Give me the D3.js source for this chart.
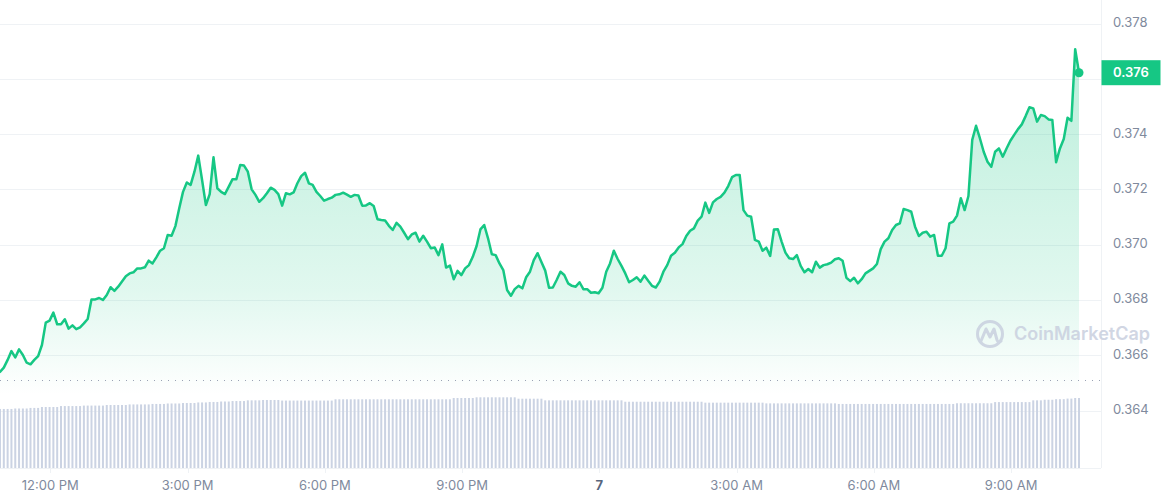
<!DOCTYPE html>
<html><head><meta charset="utf-8">
<script src="https://cdn.jsdelivr.net/npm/d3@7"></script>
<style>
html,body{margin:0;padding:0;background:#fff;}
svg{display:block;font-family:Inter,"Noto Sans",sans-serif;}
</style></head><body>
<svg id="chart" width="1161" height="500"></svg>
<script>
// ---- data ----
const startTime = "2024-03-06T10:54:00";
const stepMinutes = 5;
const prices = [
0.36540,0.36555,0.36583,0.36615,0.36592,0.36621,0.36601,0.36573,0.36567,0.36583,
0.36597,0.36637,0.36718,0.36725,0.36754,0.36712,0.36712,0.36730,0.36696,0.36708,
0.36694,0.36701,0.36715,0.36731,0.36802,0.36802,0.36807,0.36800,0.36818,0.36846,
0.36833,0.36848,0.36867,0.36886,0.36896,0.36900,0.36914,0.36914,0.36918,0.36942,
0.36932,0.36954,0.36978,0.36987,0.37035,0.37032,0.37067,0.37131,0.37191,0.37225,
0.37216,0.37264,0.37322,0.37234,0.37143,0.37183,0.37316,0.37204,0.37191,0.37183,
0.37210,0.37237,0.37237,0.37288,0.37286,0.37264,0.37200,0.37180,0.37155,0.37168,
0.37186,0.37206,0.37198,
0.37183,0.37141,0.37186,0.37182,0.37189,0.37222,0.37248,
0.37260,0.37222,0.37216,0.37191,0.37176,0.37159,0.37165,0.37170,0.37180,0.37182,
0.37188,0.37181,0.37173,0.37180,0.37178,0.37141,0.37142,0.37150,0.37140,0.37092,
0.37089,0.37087,0.37068,0.37053,0.37079,0.37065,0.37043,0.37020,0.37037,0.37043,
0.37011,0.37032,0.37011,0.36987,0.36990,0.36962,0.37001,0.36917,0.36924,0.36875,
0.36905,0.36890,0.36914,0.36926,0.36956,0.36995,0.37055,0.37071,0.37023,0.36965,
0.36962,0.36932,0.36908,0.36836,0.36815,0.36839,0.36851,0.36842,0.36882,0.36902,
0.36944,0.36969,0.36937,0.36906,
0.36844,0.36845,0.36872,0.36902,0.36890,0.36860,
0.36851,0.36848,0.36864,0.36839,0.36839,0.36826,0.36828,0.36824,0.36844,0.36902,
0.36932,0.36978,0.36948,0.36923,0.36896,0.36864,0.36872,0.36882,0.36866,0.36888,
0.36869,0.36851,0.36845,0.36866,0.36902,0.36926,0.36960,0.36971,0.36990,0.37002,
0.37031,0.37050,0.37059,0.37087,0.37101,0.37152,0.37115,0.37153,0.37165,0.37173,
0.37188,0.37212,0.37244,0.37252,0.37252,0.37125,0.37105,0.37101,0.37017,0.37011,
0.36978,0.36989,0.36959,0.37055,0.37056,0.37011,0.36971,0.36951,0.36948,0.36962,
0.36923,0.36900,0.36912,0.36900,0.36938,
0.36917,0.36926,0.36929,0.36935,0.36947,
0.36951,0.36942,0.36880,0.36868,0.36880,0.36860,0.36875,0.36896,0.36905,0.36914,
0.36930,0.36984,0.37011,0.37023,0.37053,0.37071,0.37077,0.37129,0.37125,0.37119,
0.37065,0.37031,0.37043,0.37047,0.37029,0.37035,0.36960,0.36960,0.36987,0.37077,
0.37083,0.37105,0.37168,0.37125,0.37176,0.37379,0.37430,0.37385,0.37336,0.37300,
0.37282,0.37336,0.37348,0.37318,0.37348,0.37376,0.37397,0.37418,0.37435,0.37465,
0.37497,0.37493,0.37445,0.37469,0.37465,0.37453,0.37451,0.37298,0.37348,0.37382,
0.37459,0.37448,0.37707,0.37622
];
// 24h volume (millions), one bar per price point
const volumes = [
506,506,506,506,510,510,510,510,515,515,515,523,523,523,523,523,
531,531,531,531,531,531,535,535,535,535,535,535,
540,540,540,540,540,540,545,545,545,545,545,545,
549,549,549,549,553,553,553,553,557,557,557,557,562,562,562,
566,566,566,570,570,570,574,574,574,574,580,580,580,580,
583,583,583,583,583,578,578,578,578,578,578,578,578,578,578,578,578,578,578,
589,589,589,589,589,589,589,589,589,589,589,589,589,589,589,589,
589,589,589,589,589,589,589,589,589,589,589,589,589,589,589,
600,600,600,600,600,600,
606,606,606,606,606,606,606,606,606,606,606,
594,594,594,594,594,594,594,
580,580,580,580,580,580,580,580,580,580,580,580,580,580,580,580,580,580,580,580,580,
568,568,568,568,568,568,568,568,568,568,568,568,568,568,568,568,568,568,568,568,568,
560,560,560,560,560,560,560,560,560,560,560,560,560,560,560,560,
554,554,554,554,554,554,554,554,554,554,554,554,554,554,554,554,554,554,554,
549,549,549,549,549,549,549,549,549,549,549,549,549,549,549,549,
549,549,549,549,549,549,549,549,549,549,549,549,549,549,549,
555,555,555,555,555,555,555,555,555,555,
565,565,565,565,565,565,565,565,565,565,
580,580,580,585,585,585,590,590,590,595,595,600,600
];
const yTicks = [0.364,0.366,0.368,0.370,0.372,0.374,0.376,0.378];
const refPrice = 0.3651;
const watermarkText = "CoinMarketCap";

// ---- layout ----
const plotRight = 1101, lineRight = 1079, volBottom = 468;
const green = "#16c784";

const t0 = new Date(startTime);
const data = prices.map((p, i) => ({ t: new Date(+t0 + i * stepMinutes * 60000), p, v: volumes[i] }));

const x = d3.scaleTime().domain([data[0].t, data[data.length - 1].t]).range([0, lineRight]);
const y = d3.scaleLinear().domain([0.364, 0.378]).range([410.5, 23.5]);
const yv = d3.scaleLinear().domain([0, 600]).range([volBottom, 398]);

const svg = d3.select("#chart");
const defs = svg.append("defs");
const grad = defs.append("linearGradient").attr("id", "areaGrad")
  .attr("gradientUnits", "userSpaceOnUse").attr("x1", 0).attr("x2", 0).attr("y1", 45).attr("y2", 395);
grad.append("stop").attr("offset", 0).attr("stop-color", green).attr("stop-opacity", 0.3);
grad.append("stop").attr("offset", 0.7).attr("stop-color", green).attr("stop-opacity", 0.13);
grad.append("stop").attr("offset", 1).attr("stop-color", green).attr("stop-opacity", 0.0);

// grid
svg.append("g").selectAll("line").data(yTicks).join("line")
  .attr("x1", 0).attr("x2", plotRight)
  .attr("y1", d => Math.round(y(d)) + 0.5).attr("y2", d => Math.round(y(d)) + 0.5)
  .attr("stroke", "#eff2f5").attr("stroke-width", 1);

// right border & bottom line
svg.append("line").attr("x1", plotRight + 0.5).attr("x2", plotRight + 0.5).attr("y1", 0).attr("y2", volBottom)
  .attr("stroke", "#eff2f5");
svg.append("line").attr("x1", 0).attr("x2", plotRight).attr("y1", volBottom + 0.5).attr("y2", volBottom + 0.5)
  .attr("stroke", "#eff2f5");

// area
const area = d3.area().x(d => x(d.t)).y0(volBottom).y1(d => y(d.p));
svg.append("path").datum(data).attr("d", area).attr("fill", "url(#areaGrad)");

// volume bars
svg.append("g").selectAll("rect").data(data).join("rect")
  .attr("x", d => x(d.t) - 1).attr("width", 2)
  .attr("y", d => yv(d.v)).attr("height", d => volBottom - yv(d.v))
  .attr("fill", "#cbd3e3");

// reference dotted line
svg.append("line").attr("x1", 0).attr("x2", plotRight)
  .attr("y1", Math.round(y(refPrice)) + 0.5).attr("y2", Math.round(y(refPrice)) + 0.5)
  .attr("stroke", "#9aa2b4").attr("stroke-width", 1).attr("stroke-dasharray", "1,6");

// watermark
const wm = svg.append("g").attr("opacity", 0.85);
wm.append("circle").attr("cx", 990).attr("cy", 334).attr("r", 12.5)
  .attr("fill", "none").attr("stroke", "#c9d0df").attr("stroke-width", 3);
wm.append("path").attr("d", "M981,341 L986,329 L990,337 L994,329 L997,340 Q998,343 1001,341")
  .attr("fill", "none").attr("stroke", "#c9d0df").attr("stroke-width", 3)
  .attr("stroke-linejoin", "round").attr("stroke-linecap", "round");
wm.append("text").attr("x", 1014).attr("y", 335).attr("dominant-baseline", "middle")
  .attr("font-size", 18).attr("font-weight", 600).attr("fill", "#c9d0df").text(watermarkText);

// line
const line = d3.line().x(d => x(d.t)).y(d => y(d.p));
svg.append("path").datum(data).attr("d", line).attr("fill", "none")
  .attr("stroke", green).attr("stroke-width", 2.5).attr("stroke-linejoin", "round").attr("stroke-linecap", "round");

// end dot
const last = data[data.length - 1];
svg.append("circle").attr("cx", x(last.t)).attr("cy", y(last.p)).attr("r", 4.5).attr("fill", green);

// y axis labels (the one hidden under the current-price tag is not drawn)
const fmt = d3.format(".3f");
const tagY = y(last.p);
svg.append("g").selectAll("text").data(yTicks.filter(d => Math.abs(y(d) - tagY) > 14)).join("text")
  .attr("x", 1113).attr("y", d => y(d)).attr("dominant-baseline", "middle")
  .attr("font-size", 13).attr("fill", "#808a9d").text(d => fmt(d));

// current price tag
svg.append("rect").attr("x", plotRight + 0.5).attr("y", tagY - 12.5).attr("width", 59).attr("height", 25)
  .attr("fill", green);
svg.append("text").attr("x", 1113).attr("y", tagY + 0.5).attr("dominant-baseline", "middle")
  .attr("font-size", 13).attr("font-weight", 600).attr("fill", "#fff").text(fmt(last.p));

// x axis
const xTicks = x.ticks(d3.timeHour.every(3));
const fmtDay = d3.timeFormat("%-d"), fmtHour = d3.timeFormat("%-I:%M %p");
const xg = svg.append("g");
xg.selectAll("line").data(xTicks).join("line")
  .attr("x1", d => Math.round(x(d)) + 0.5).attr("x2", d => Math.round(x(d)) + 0.5)
  .attr("y1", volBottom).attr("y2", volBottom + 5).attr("stroke", "#eff2f5");
xg.selectAll("text").data(xTicks).join("text")
  .attr("x", d => x(d)).attr("y", 486.5).attr("text-anchor", "middle").attr("dominant-baseline", "middle")
  .attr("font-size", 13)
  .attr("font-weight", d => d.getHours() === 0 ? 700 : 400)
  .attr("fill", d => d.getHours() === 0 ? "#58667e" : "#808a9d")
  .text(d => d.getHours() === 0 ? fmtDay(d) : fmtHour(d));
</script>
</body></html>
